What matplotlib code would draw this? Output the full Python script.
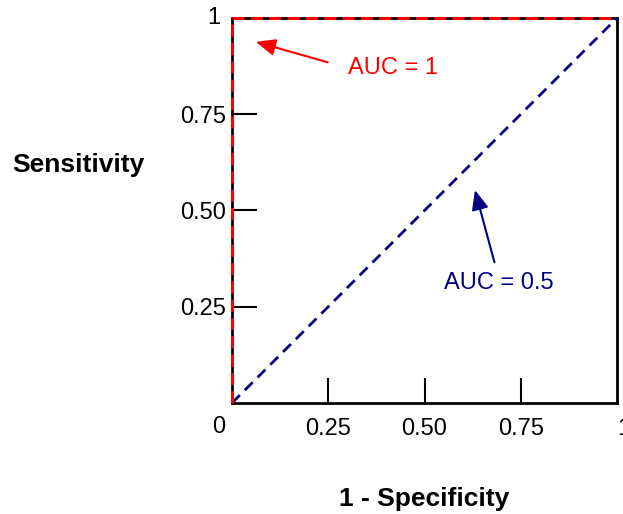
import matplotlib
matplotlib.use("Agg")
from matplotlib import pyplot as plt

plt.rcParams['font.family'] = ['Liberation Sans', 'DejaVu Sans']

# ROC curves
perfect_x = [0, 0, 1]
perfect_y = [0, 1, 1]
chance_x = [0, 1]
chance_y = [0, 1]

tick_pos = [0.25, 0.5, 0.75, 1]
tick_labels = ['0.25', '0.50', '0.75', '1']

fig = plt.figure(figsize=(6.23, 5.14), dpi=100)
ax = fig.add_axes([0.3724, 0.216, 0.618, 0.749])

ax.plot(chance_x, chance_y, color='#000080', lw=2, ls=(0, (4, 2.5)), clip_on=False, zorder=3)
ax.plot(perfect_x, perfect_y, color='red', lw=2.2, ls=(0, (4, 2)), clip_on=False, zorder=4)

ax.set_xlim(0, 1)
ax.set_ylim(0, 1)
for s in ax.spines.values():
    s.set_linewidth(2)
    s.set_zorder(2)

ax.set_xticks(tick_pos)
ax.set_xticklabels(tick_labels)
ax.set_yticks(tick_pos[:-1])
ax.set_yticklabels(tick_labels[:-1])
ax.tick_params(axis='both', direction='in', length=18, width=1.5, labelsize=17)
ax.tick_params(axis='x', pad=11)
ax.tick_params(axis='y', pad=4.5)
ax.xaxis.get_major_ticks()[-1].tick1line.set_visible(False)
ax.get_xticklabels()[-1].set_ha('left')

# origin "0" and top "1" sit a bit off the axis corners
ax.annotate('0', xy=(0, 0), xytext=(-9.5, -17), textcoords='offset points',
            ha='center', va='center', fontsize=17)
ax.annotate('1', xy=(0, 1), xytext=(-13, 0), textcoords='offset points',
            ha='center', va='center', fontsize=17)

ax.set_xlabel('1 - Specificity', fontsize=19, fontweight='bold', labelpad=34)
fig.text(0.125, 0.679, 'Sensitivity', fontsize=19, fontweight='bold', ha='center', va='center')

ax.annotate('AUC = 1', xy=(0.062, 0.938), xytext=(0.301, 0.870), color='red',
            fontsize=17, va='center', ha='left',
            arrowprops=dict(arrowstyle='-|>,head_length=0.7,head_width=0.3', color='red',
                            lw=1.5, shrinkA=13, shrinkB=0, relpos=(0, 0.5)))
ax.annotate('AUC = 0.5', xy=(0.631, 0.553), xytext=(0.694, 0.312), color='#000080',
            fontsize=17, va='center', ha='center',
            arrowprops=dict(arrowstyle='-|>,head_length=0.7,head_width=0.3', color='#000080',
                            lw=1.5, shrinkA=5, shrinkB=0, relpos=(0.48, 1.0)))

fig.savefig('out.png', dpi=100)
